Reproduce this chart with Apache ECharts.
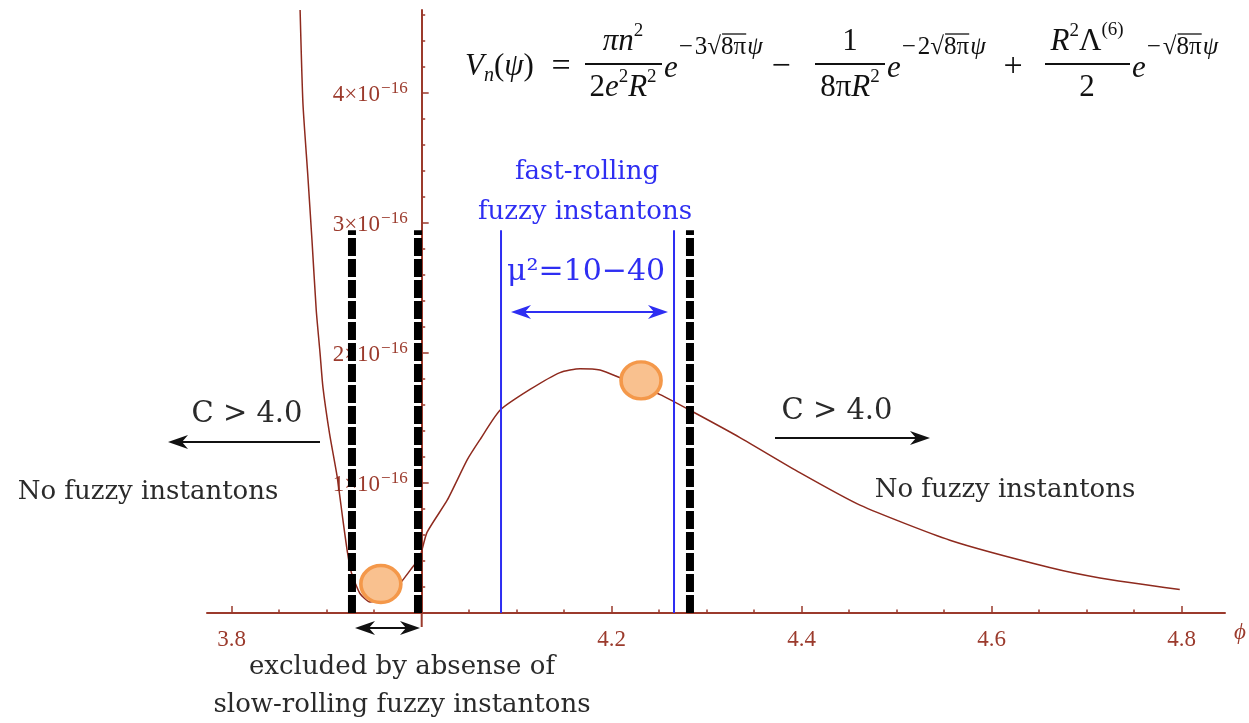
<!DOCTYPE html>
<html>
<head>
<meta charset="utf-8">
<script src="https://cdn.jsdelivr.net/npm/echarts@6/dist/echarts.min.js"></script>
<style>
html,body{margin:0;padding:0;background:#fff}
#chart{width:1249px;height:723px}
</style>
</head>
<body>
<div id="chart"></div>
<script>
// potential curve, V in units of 1e-16
const curvePhi = [3.872, 3.875, 3.880, 3.8845, 3.889, 3.893, 3.896, 3.903, 3.911, 3.917, 3.922, 3.926, 3.935, 3.9455, 3.956, 3.974, 3.988, 3.998, 4.0056, 4.027, 4.048, 4.061, 4.0824, 4.114, 4.1456, 4.1667, 4.1877, 4.2088, 4.251, 4.2824, 4.335, 4.398, 4.4614, 4.556, 4.661, 4.714, 4.798];
const curveV = [4.64, 3.92, 3.38, 2.87, 2.33, 2.0, 1.74, 1.38, 1.05, 0.72, 0.46, 0.31, 0.15, 0.085, 0.10, 0.20, 0.33, 0.43, 0.62, 0.87, 1.18, 1.33, 1.56, 1.72, 1.85, 1.88, 1.87, 1.81, 1.68, 1.56, 1.35, 1.08, 0.83, 0.56, 0.35, 0.27, 0.18];

// vertical markers
const dashedPhi = [3.9266, 3.9961, 4.2824];
const bluePhi = [4.0835, 4.2656];
const markerTop = 2.946;

// orange dots
const dotPhi = [3.957, 4.2309];
const dotV = [0.223, 1.79];

const xTickLabels = ['3.8', '', '4.2', '4.4', '4.6', '4.8'];
const yTickLabels = ['1×10', '2×10', '3×10', '4×10'];
const yTickExp = '−16';

const brown = '#9b3a2c';
const blue = '#2e2ef2';
const ink = '#2a2a2a';
const SERIF = 'DejaVu Serif';
const TEX = 'Liberation Serif';

const chart = echarts.init(document.getElementById('chart'));
const measureCtx = document.createElement('canvas').getContext('2d');
function textWidth(str, font) {
  measureCtx.font = font;
  return measureCtx.measureText(str).width;
}

function txt(str, x, y, font, fill, align) {
  return {
    type: 'text', x: x, y: y, z: 10,
    style: {
      text: str, font: font, fill: fill,
      align: align || 'left', verticalAlign: 'middle',
      textAlign: align || 'left', textVerticalAlign: 'middle'
    }
  };
}

function bar(x1, x2, y) {
  return { type: 'rect', z: 10, shape: { x: x1, y: y - 1, width: x2 - x1, height: 2 }, style: { fill: '#111' } };
}

function hline(x1, x2, y, w) {
  return { type: 'line', z: 10, shape: { x1: x1, y1: y, x2: x2, y2: y }, style: { stroke: '#111', lineWidth: w || 1.2 } };
}

// lay pieces left to right: [text, font, dy, overline?, gapAfter]
function run(x, y, pieces, out) {
  pieces.forEach(p => {
    const w = textWidth(p[0], p[1]);
    out.push(txt(p[0], x, y + (p[2] || 0), p[1], '#111'));
    if (p[3]) out.push(hline(x + 1, x + w, y + p[3], 1.3));
    x += w + (p[4] || 0);
  });
  return x;
}

function head(tx, y, dir, color) {
  return {
    type: 'polygon', z: 11,
    shape: { points: [[tx, y], [tx - dir * 20, y - 7], [tx - dir * 14, y], [tx - dir * 20, y + 7]] },
    style: { fill: color }
  };
}

function arrow(x1, x2, y, color, both) {
  const dir = x2 > x1 ? 1 : -1;
  const out = [
    { type: 'line', z: 10, shape: { x1: x1, y1: y, x2: x2 - dir * 10, y2: y }, style: { stroke: color, lineWidth: 1.8 } },
    head(x2, y, dir, color)
  ];
  if (both) {
    out[0].shape.x1 = x1 + dir * 10;
    out.push(head(x1, y, -dir, color));
  }
  return out;
}

// formula
const BIG = '31px ' + TEX, BIGI = 'italic 31px ' + TEX;
const SUP = '25px ' + TEX, SUPI = 'italic 25px ' + TEX;
const SQ = '19px ' + TEX;
const formula = [];
run(465, 67, [['V', BIGI], ['n', 'italic 20px ' + TEX, 9], ['(', BIG], ['ψ', BIGI], [')', BIG]], formula);
formula.push(txt('=', 561, 67, '34px ' + TEX, '#111', 'center'));
function frac(cx, x1, x2, numPieces, denPieces) {
  const nw = numPieces.reduce((s, p) => s + textWidth(p[0], p[1]), 0);
  const dw = denPieces.reduce((s, p) => s + textWidth(p[0], p[1]), 0);
  run(cx - nw / 2, 42, numPieces, formula);
  formula.push(bar(x1, x2, 64));
  run(cx - dw / 2, 88, denPieces, formula);
}
function expo(x, mult) {
  const xx = run(x, 67, [['e', BIGI, 2]], formula);
  run(xx + 1, 47, [['−', SUP, 0, 0, 2], [mult + '√', SUP], ['8π', SUP, 0, -13, 1], ['ψ', SUPI]], formula);
}
frac(623, 585, 662, [['πn', BIGI], ['2', SQ, -11]], [['2', BIG], ['e', BIGI], ['2', SQ, -11], ['R', BIGI], ['2', SQ, -11]]);
expo(664, '3');
formula.push(txt('−', 781, 67, '34px ' + TEX, '#111', 'center'));
frac(850, 815, 885, [['1', BIG]], [['8π', BIG], ['R', BIGI], ['2', SQ, -11]]);
expo(887, '2');
formula.push(txt('+', 1013, 67, '34px ' + TEX, '#111', 'center'));
frac(1087, 1045, 1130, [['R', BIGI], ['2', SQ, -11], ['Λ', BIG], ['(6)', SQ, -12]], [['2', BIG]]);
expo(1132, '');

const graphics = [].concat(
  formula,
  [
    txt('fast-rolling', 587, 172, '26px ' + SERIF, blue, 'center'),
    txt('fuzzy instantons', 585, 212, '26px ' + SERIF, blue, 'center'),
    txt('μ²=10−40', 586, 272, '30px ' + SERIF, blue, 'center'),
    txt('C > 4.0', 247, 414, '29px ' + SERIF, ink, 'center'),
    txt('C > 4.0', 837, 411, '29px ' + SERIF, ink, 'center'),
    txt('No fuzzy instantons', 148, 492, '26px ' + SERIF, ink, 'center'),
    txt('No fuzzy instantons', 1005, 490, '26px ' + SERIF, ink, 'center'),
    txt('excluded by absense of', 402, 667, '26px ' + SERIF, ink, 'center'),
    txt('slow-rolling fuzzy instantons', 402, 705, '26px ' + SERIF, ink, 'center'),
    txt('ϕ', 1240, 633, 'italic 23px ' + TEX, brown, 'center'),
    { type: 'line', z: 5, shape: { x1: 421.7, y1: 613, x2: 421.7, y2: 627 }, style: { stroke: brown, lineWidth: 2 } }
  ],
  arrow(320, 168, 442, '#111', false),
  arrow(775, 930, 438, '#111', false),
  arrow(511, 668, 312, blue, true),
  arrow(355, 420, 628, '#111', true)
);

const series = [
  {
    type: 'line', xAxisIndex: 0, yAxisIndex: 0, z: 2,
    data: curvePhi.map((p, i) => [p, curveV[i]]),
    symbol: 'none', smooth: 0.2,
    lineStyle: { color: '#8e2a1e', width: 1.5 }
  }
];
dashedPhi.forEach(p => series.push({
  type: 'line', xAxisIndex: 0, yAxisIndex: 0, z: 4, clip: false,
  data: [[p, 0], [p, markerTop]], symbol: 'none',
  lineStyle: { color: '#000', width: 8, type: [18, 3], cap: 'butt' }
}));
bluePhi.forEach(p => series.push({
  type: 'line', xAxisIndex: 0, yAxisIndex: 0, z: 4,
  data: [[p, 0], [p, markerTop]], symbol: 'none',
  lineStyle: { color: blue, width: 2 }
}));
series.push({
  type: 'scatter', xAxisIndex: 0, yAxisIndex: 0, z: 6,
  data: dotPhi.map((p, i) => [p, dotV[i]]),
  symbolSize: [40, 37],
  itemStyle: { color: '#f9c18f', borderColor: '#f4984a', borderWidth: 3.5, opacity: 1 }
});

const tickStyle = { color: brown, width: 1.5 };
const option = {
  backgroundColor: '#fff',
  animation: false,
  grid: [
    { left: 207, right: 24, top: 10, bottom: 110 },      // plot area
    { left: 231.7, right: 67.3, top: 10, bottom: 110 },  // x ticks 3.8..4.8
    { left: 421.7, right: 24, top: 93, bottom: 110 },    // y labels 0..4
    { left: 421.7, right: 24, top: 15, bottom: 110 },    // y minor ticks 0..4.6
    { left: 421.7, right: 24, top: 10, bottom: 110 }     // y axis line
  ],
  xAxis: [
    { gridIndex: 0, type: 'value', min: 3.774, max: 4.8456,
      axisLine: { show: true, onZero: false, lineStyle: { color: brown, width: 2 } },
      axisTick: { show: false }, axisLabel: { show: false }, splitLine: { show: false } },
    { gridIndex: 1, type: 'value', min: 3.8, max: 4.8, interval: 0.2,
      axisLine: { show: false },
      axisTick: { show: true, inside: true, length: 7, lineStyle: tickStyle },
      minorTick: { show: true, splitNumber: 4, length: 3.5, lineStyle: tickStyle },
      axisLabel: { margin: 15, color: brown, fontFamily: TEX, fontSize: 23,
        formatter: v => xTickLabels[Math.round((v - 3.8) / 0.2)] || '' },
      splitLine: { show: false }, minorSplitLine: { show: false } },
    { gridIndex: 2, type: 'value', min: 0, max: 1, show: false },
    { gridIndex: 3, type: 'value', min: 0, max: 1, show: false },
    { gridIndex: 4, type: 'value', min: 0, max: 1, show: false }
  ],
  yAxis: [
    { gridIndex: 0, type: 'value', min: 0, max: 4.64, show: false },
    { gridIndex: 1, type: 'value', min: 0, max: 4.64, show: false },
    { gridIndex: 2, type: 'value', min: 0, max: 4, interval: 1,
      axisLine: { show: false },
      axisTick: { show: true, inside: true, length: 7, lineStyle: tickStyle },
      axisLabel: { margin: 14, color: brown,
        formatter: v => { const i = Math.round(v); return (i >= 1 && i <= yTickLabels.length) ? '{b|' + yTickLabels[i - 1] + '}{s|' + yTickExp + '}' : ''; },
        rich: {
          b: { fontFamily: TEX, fontSize: 23, color: brown, lineHeight: 26, verticalAlign: 'bottom' },
          s: { fontFamily: TEX, fontSize: 17, color: brown, lineHeight: 13, verticalAlign: 'top', padding: [0, 0, 0, 1] }
        } },
      splitLine: { show: false } },
    { gridIndex: 3, type: 'value', min: 0, max: 4.6, interval: 0.2,
      axisLine: { show: false },
      axisTick: { show: true, inside: true, length: 3.5, lineStyle: tickStyle },
      axisLabel: { show: false }, splitLine: { show: false } },
    { gridIndex: 4, type: 'value', min: 0, max: 4.64,
      axisLine: { show: true, onZero: false, lineStyle: { color: brown, width: 2 } },
      axisTick: { show: false }, axisLabel: { show: false }, splitLine: { show: false } }
  ],
  graphic: { elements: graphics },
  series: series
};

chart.setOption(option);
</script>
</body>
</html>
